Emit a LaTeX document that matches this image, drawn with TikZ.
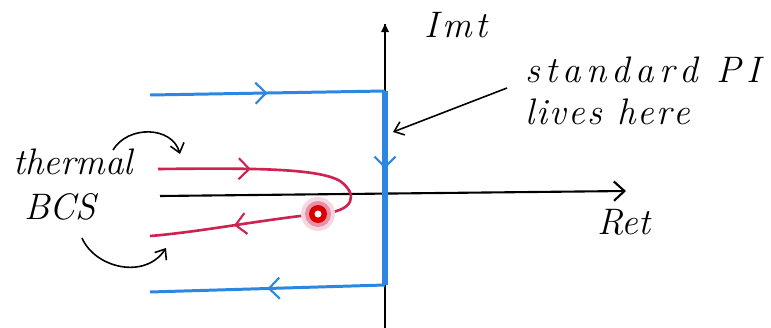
\documentclass[tikz,border=0pt]{standalone}
\usepackage{fontspec}
\usetikzlibrary{arrows.meta,decorations.markings}
\definecolor{cblue}{RGB}{45,135,225}
\definecolor{cred}{RGB}{205,35,80}
\newcommand\gapA{\kern3pt}
\newcommand\gapB{\kern1.2pt}
\tikzset{
  hand/.style={font=\fontsize{21}{24}\selectfont\itshape, inner sep=0pt},
  axisline/.style={line width=1.2pt, black},
  bluepath/.style={line width=1.7pt, cblue},
  redpath/.style={line width=1.5pt, cred},
  midarrow/.style={postaction={decorate}, decoration={markings, mark=at position #1 with {\arrow[line width=1.2pt]{Straight Barb[length=6pt,width=12pt]}}}},
  note/.style={line width=0.9pt, black, -{Straight Barb[length=5pt,width=8pt]}},
}
\begin{document}
\begin{tikzpicture}[x=0.02cm,y=-0.02cm]
\useasboundingbox (0,0) rectangle (771,328);
\fill[white] (0,0) rectangle (771,328);
% coordinates
\coordinate (vbot) at (385,328);
\coordinate (vtop) at (385,24);
\coordinate (hl) at (160,196);
\coordinate (hr) at (626,191);
\coordinate (tl) at (150,95);
\coordinate (tr) at (385,91);
\coordinate (bl) at (150,292);
\coordinate (br) at (385,285);
\coordinate (pole) at (318,214);
% axes
\draw[axisline] (vbot) -- (vtop);
\fill (vtop) -- ++(-4,8) -- ++(8,0) -- cycle;
\draw[axisline, -{Straight Barb[length=6pt,width=11pt]}] (hl) -- (hr);
% blue contour
\draw[bluepath, midarrow=0.5] (tl) -- (tr);
\draw[line width=3.6pt, cblue, midarrow=0.4] (tr) -- (br);
\draw[bluepath, midarrow=0.5] (br) -- (bl);
% red contour
\draw[redpath, midarrow=0.38] (158,169) .. controls (250,168) and (318,168) .. (340,181) .. controls (358,194) and (356,212) .. (pole);
\draw[redpath, midarrow=0.5] (pole) .. controls (260,220) and (200,232) .. (150,236);
% pole
\fill[cred!18] (pole) circle (17);
\fill[cred!50] (pole) circle (13);
\fill[red!85!black] (pole) circle (9);
\fill[white] (pole) circle (3.5);
% labels
\node[hand] (imt) at (456,25) {I\kern2pt m\kern2pt t};
\node[hand] (ret) at (624,222) {Ret};
\node[hand, anchor=west] (std) at (525,70) {s\gapA t\gapA a\gapA n\gapA d\gapA a\gapA r\gapA d\gapA\ P\gapA I};
\node[hand, anchor=west] (lives) at (525,112) {l\gapB i\gapB v\gapB e\gapB s\gapB\ h\gapB e\gapB r\gapB e};
\node[hand] (thermal) at (73,162) {thermal};
\node[hand] (bcs) at (60,207) {BCS};
\coordinate (blueMid) at (393,132);
\draw[note] (507,88) -- (blueMid);
\draw[note] (113,150) .. controls (128,125) and (172,126) .. (180,154);
\draw[note] (82,238) .. controls (95,268) and (145,280) .. (166,248);
\end{tikzpicture}
\end{document}
